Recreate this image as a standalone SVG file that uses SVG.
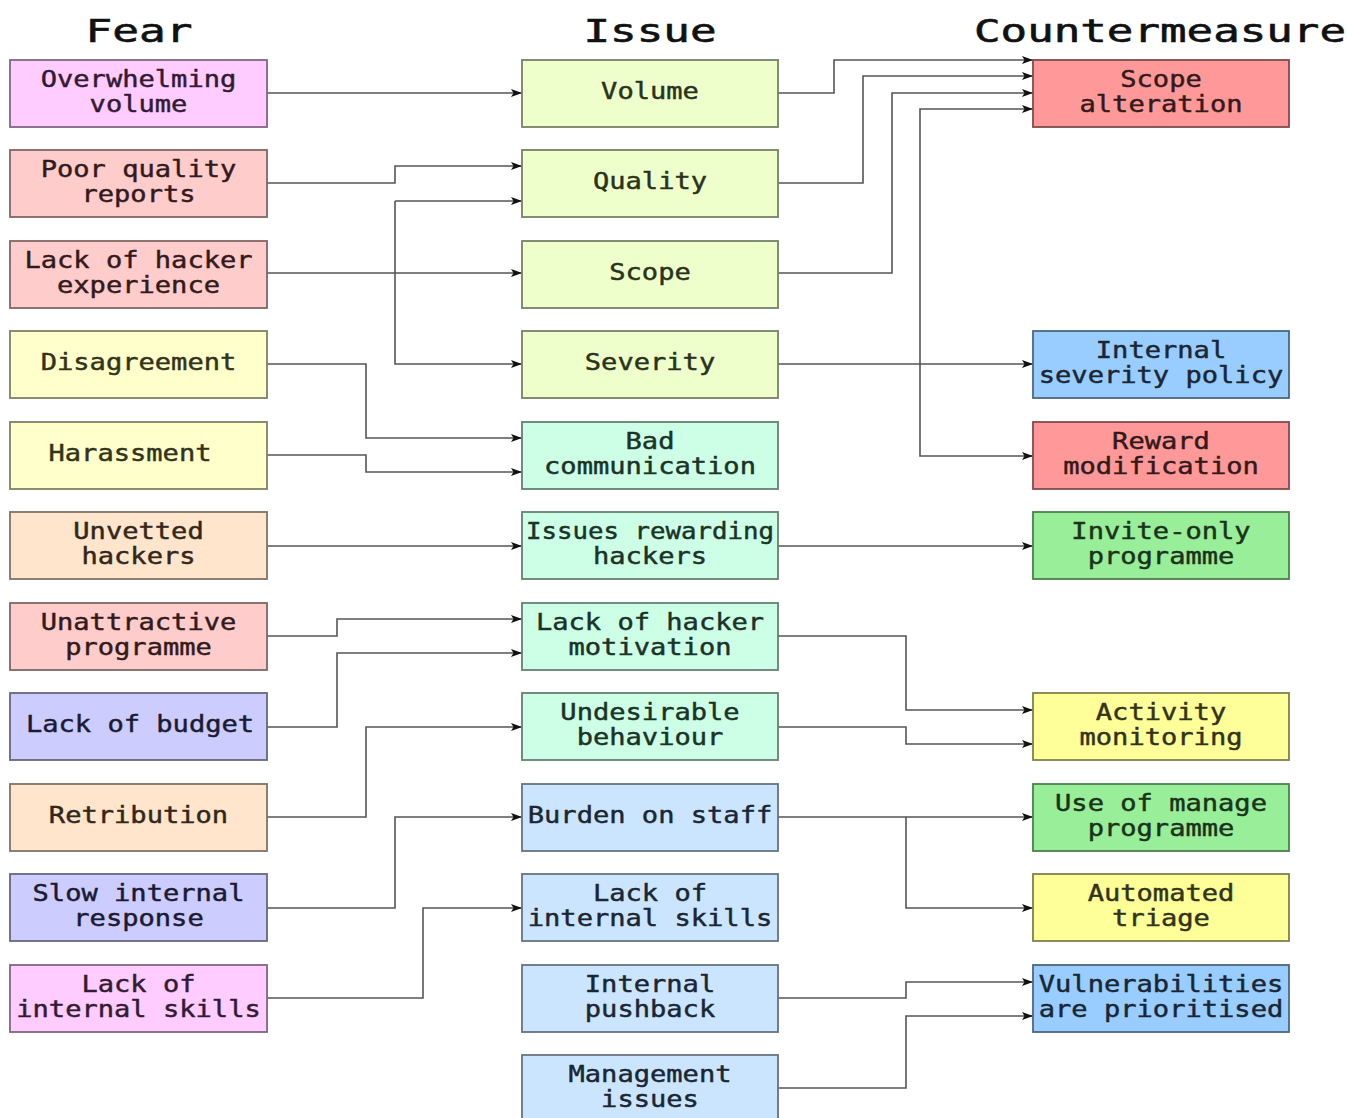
<svg xmlns="http://www.w3.org/2000/svg" width="1347" height="1118" viewBox="0 0 1347 1118">
  <style>
    text { font-family: "DejaVu Sans Mono", "Liberation Mono", monospace; text-anchor: middle; }
    .title { font-size: 32px; fill: #111; stroke: #111; stroke-width: 0.6; }
    .lbl { font-size: 23px; stroke-width: 0.45; }
    .box { stroke-width: 1.8; }
    .pink .box { fill: #ffccff; stroke: #806680; } .pink text { fill: #331a33; stroke: #331a33; }
    .rose .box { fill: #ffcccc; stroke: #806666; } .rose text { fill: #331a1a; stroke: #331a1a; }
    .cream .box { fill: #ffffcc; stroke: #808066; } .cream text { fill: #33331a; stroke: #33331a; }
    .peach .box { fill: #ffe5cc; stroke: #807366; } .peach text { fill: #33261a; stroke: #33261a; }
    .lav .box { fill: #ccccff; stroke: #666680; } .lav text { fill: #1a1a33; stroke: #1a1a33; }
    .lime .box { fill: #eeffcc; stroke: #778066; } .lime text { fill: #2a331a; stroke: #2a331a; }
    .mint .box { fill: #ccffe6; stroke: #668073; } .mint text { fill: #1a3326; stroke: #1a3326; }
    .sky .box { fill: #cce5ff; stroke: #667380; } .sky text { fill: #1a2633; stroke: #1a2633; }
    .red .box { fill: #ff9999; stroke: #804c4c; } .red text { fill: #331a1a; stroke: #331a1a; }
    .blue .box { fill: #99ccff; stroke: #4c6680; } .blue text { fill: #1a2633; stroke: #1a2633; }
    .green .box { fill: #99ee99; stroke: #4c804c; } .green text { fill: #1a331a; stroke: #1a331a; }
    .yellow .box { fill: #ffff99; stroke: #80804c; } .yellow text { fill: #33331a; stroke: #33331a; }
    .edges path { fill: none; stroke: #555; stroke-width: 1.6; }
    .edges path.arr { marker-end: url(#arrow); }
  </style>
  <defs>
    <marker id="arrow" markerUnits="userSpaceOnUse" markerWidth="12" markerHeight="9" refX="11" refY="4.5" orient="auto">
      <path d="M0,0.5 L11,4.5 L0,8.5 L2.5,4.5 z" fill="#111"/>
    </marker>
  </defs>

  <rect width="1347" height="1118" fill="#fff"/>

  <!-- column headings -->
  <g id="headings">
    <text class="title" x="139" y="42" textLength="107" lengthAdjust="spacingAndGlyphs">Fear</text>
    <text class="title" x="650" y="42" textLength="133" lengthAdjust="spacingAndGlyphs">Issue</text>
    <text class="title" x="1160" y="42" textLength="372" lengthAdjust="spacingAndGlyphs">Countermeasure</text>
  </g>

  <!-- connectors: shared trunks drawn once, branches carry the arrowheads -->
  <g id="connectors" class="edges">
    <!-- fear to issue -->
    <path class="arr" d="M267,93 H522"/>
    <path class="arr" d="M267,183 H395 V166 H522"/>
    <path class="arr" d="M267,273 H522"/>
    <path d="M395,273 V201"/>
    <path class="arr" d="M395,201 H522"/>
    <path class="arr" d="M395,273 V364 H522"/>
    <path class="arr" d="M267,364 H366 V438 H522"/>
    <path class="arr" d="M267,455 H366 V472 H522"/>
    <path class="arr" d="M267,546 H522"/>
    <path class="arr" d="M267,636 H337 V619 H522"/>
    <path class="arr" d="M267,727 H337 V653 H522"/>
    <path class="arr" d="M267,817 H366 V727 H522"/>
    <path class="arr" d="M267,908 H395 V817 H522"/>
    <path class="arr" d="M267,998 H423 V908 H522"/>
    <!-- issue to countermeasure -->
    <path class="arr" d="M778,93 H834 V60 H1033"/>
    <path class="arr" d="M778,183 H863 V76 H1033"/>
    <path class="arr" d="M778,273 H892 V93 H1033"/>
    <path class="arr" d="M778,364 H1033"/>
    <path class="arr" d="M920,364 V109 H1033"/>
    <path class="arr" d="M920,364 V456 H1033"/>
    <path class="arr" d="M778,546 H1033"/>
    <path class="arr" d="M778,636 H906 V710 H1033"/>
    <path class="arr" d="M778,727 H906 V744 H1033"/>
    <path class="arr" d="M778,817 H1033"/>
    <path class="arr" d="M906,817 V908 H1033"/>
    <path class="arr" d="M778,998 H906 V982 H1033"/>
    <path class="arr" d="M778,1088 H906 V1016 H1033"/>
  </g>

  <!-- Fear column -->
  <g id="fear-overwhelming-volume" class="pink">
    <rect class="box" x="10" y="60" width="257" height="67"/>
    <text class="lbl" x="138.5" y="87" textLength="195.6" lengthAdjust="spacingAndGlyphs">Overwhelming</text>
    <text class="lbl" x="138.5" y="112" textLength="97.8" lengthAdjust="spacingAndGlyphs">volume</text>
  </g>
  <g id="fear-poor-quality-reports" class="rose">
    <rect class="box" x="10" y="150" width="257" height="67"/>
    <text class="lbl" x="138.5" y="177" textLength="195.6" lengthAdjust="spacingAndGlyphs">Poor quality</text>
    <text class="lbl" x="138.5" y="202" textLength="114.1" lengthAdjust="spacingAndGlyphs">reports</text>
  </g>
  <g id="fear-lack-of-hacker-experience" class="rose">
    <rect class="box" x="10" y="241" width="257" height="67"/>
    <text class="lbl" x="138.5" y="268" textLength="228.2" lengthAdjust="spacingAndGlyphs">Lack of hacker</text>
    <text class="lbl" x="138.5" y="293" textLength="163" lengthAdjust="spacingAndGlyphs">experience</text>
  </g>
  <g id="fear-disagreement" class="cream">
    <rect class="box" x="10" y="331" width="257" height="67"/>
    <text class="lbl" x="138.5" y="370" textLength="195.6" lengthAdjust="spacingAndGlyphs">Disagreement</text>
  </g>
  <g id="fear-harassment" class="cream">
    <rect class="box" x="10" y="422" width="257" height="67"/>
    <text class="lbl" x="130" y="461" textLength="163" lengthAdjust="spacingAndGlyphs">Harassment</text>
  </g>
  <g id="fear-unvetted-hackers" class="peach">
    <rect class="box" x="10" y="512" width="257" height="67"/>
    <text class="lbl" x="138.5" y="539" textLength="130.4" lengthAdjust="spacingAndGlyphs">Unvetted</text>
    <text class="lbl" x="138.5" y="564" textLength="114.1" lengthAdjust="spacingAndGlyphs">hackers</text>
  </g>
  <g id="fear-unattractive-programme" class="rose">
    <rect class="box" x="10" y="603" width="257" height="67"/>
    <text class="lbl" x="138.5" y="630" textLength="195.6" lengthAdjust="spacingAndGlyphs">Unattractive</text>
    <text class="lbl" x="138.5" y="655" textLength="146.7" lengthAdjust="spacingAndGlyphs">programme</text>
  </g>
  <g id="fear-lack-of-budget" class="lav">
    <rect class="box" x="10" y="693" width="257" height="67"/>
    <text class="lbl" x="140" y="732" textLength="228.2" lengthAdjust="spacingAndGlyphs">Lack of budget</text>
  </g>
  <g id="fear-retribution" class="peach">
    <rect class="box" x="10" y="784" width="257" height="67"/>
    <text class="lbl" x="138.5" y="823" textLength="179.3" lengthAdjust="spacingAndGlyphs">Retribution</text>
  </g>
  <g id="fear-slow-internal-response" class="lav">
    <rect class="box" x="10" y="874" width="257" height="67"/>
    <text class="lbl" x="138.5" y="901" textLength="211.9" lengthAdjust="spacingAndGlyphs">Slow internal</text>
    <text class="lbl" x="138.5" y="926" textLength="130.4" lengthAdjust="spacingAndGlyphs">response</text>
  </g>
  <g id="fear-lack-of-internal-skills" class="pink">
    <rect class="box" x="10" y="965" width="257" height="67"/>
    <text class="lbl" x="138.5" y="992" textLength="114.1" lengthAdjust="spacingAndGlyphs">Lack of</text>
    <text class="lbl" x="138.5" y="1017" textLength="244.5" lengthAdjust="spacingAndGlyphs">internal skills</text>
  </g>

  <!-- Issue column -->
  <g id="issue-volume" class="lime">
    <rect class="box" x="522" y="60" width="256" height="67"/>
    <text class="lbl" x="650" y="99" textLength="97.8" lengthAdjust="spacingAndGlyphs">Volume</text>
  </g>
  <g id="issue-quality" class="lime">
    <rect class="box" x="522" y="150" width="256" height="67"/>
    <text class="lbl" x="650" y="189" textLength="114.1" lengthAdjust="spacingAndGlyphs">Quality</text>
  </g>
  <g id="issue-scope" class="lime">
    <rect class="box" x="522" y="241" width="256" height="67"/>
    <text class="lbl" x="650" y="280" textLength="81.5" lengthAdjust="spacingAndGlyphs">Scope</text>
  </g>
  <g id="issue-severity" class="lime">
    <rect class="box" x="522" y="331" width="256" height="67"/>
    <text class="lbl" x="650" y="370" textLength="130.4" lengthAdjust="spacingAndGlyphs">Severity</text>
  </g>
  <g id="issue-bad-communication" class="mint">
    <rect class="box" x="522" y="422" width="256" height="67"/>
    <text class="lbl" x="650" y="449" textLength="48.9" lengthAdjust="spacingAndGlyphs">Bad</text>
    <text class="lbl" x="650" y="474" textLength="211.9" lengthAdjust="spacingAndGlyphs">communication</text>
  </g>
  <g id="issue-issues-rewarding-hackers" class="mint">
    <rect class="box" x="522" y="512" width="256" height="67"/>
    <text class="lbl" x="650" y="539" textLength="248" lengthAdjust="spacingAndGlyphs">Issues rewarding</text>
    <text class="lbl" x="650" y="564" textLength="114.1" lengthAdjust="spacingAndGlyphs">hackers</text>
  </g>
  <g id="issue-lack-of-hacker-motivation" class="mint">
    <rect class="box" x="522" y="603" width="256" height="67"/>
    <text class="lbl" x="650" y="630" textLength="228.2" lengthAdjust="spacingAndGlyphs">Lack of hacker</text>
    <text class="lbl" x="650" y="655" textLength="163" lengthAdjust="spacingAndGlyphs">motivation</text>
  </g>
  <g id="issue-undesirable-behaviour" class="mint">
    <rect class="box" x="522" y="693" width="256" height="67"/>
    <text class="lbl" x="650" y="720" textLength="179.3" lengthAdjust="spacingAndGlyphs">Undesirable</text>
    <text class="lbl" x="650" y="745" textLength="146.7" lengthAdjust="spacingAndGlyphs">behaviour</text>
  </g>
  <g id="issue-burden-on-staff" class="sky">
    <rect class="box" x="522" y="784" width="256" height="67"/>
    <text class="lbl" x="650" y="823" textLength="244.5" lengthAdjust="spacingAndGlyphs">Burden on staff</text>
  </g>
  <g id="issue-lack-of-internal-skills" class="sky">
    <rect class="box" x="522" y="874" width="256" height="67"/>
    <text class="lbl" x="650" y="901" textLength="114.1" lengthAdjust="spacingAndGlyphs">Lack of</text>
    <text class="lbl" x="650" y="926" textLength="244.5" lengthAdjust="spacingAndGlyphs">internal skills</text>
  </g>
  <g id="issue-internal-pushback" class="sky">
    <rect class="box" x="522" y="965" width="256" height="67"/>
    <text class="lbl" x="650" y="992" textLength="130.4" lengthAdjust="spacingAndGlyphs">Internal</text>
    <text class="lbl" x="650" y="1017" textLength="130.4" lengthAdjust="spacingAndGlyphs">pushback</text>
  </g>
  <g id="issue-management-issues" class="sky">
    <rect class="box" x="522" y="1055" width="256" height="67"/>
    <text class="lbl" x="650" y="1082" textLength="163" lengthAdjust="spacingAndGlyphs">Management</text>
    <text class="lbl" x="650" y="1107" textLength="97.8" lengthAdjust="spacingAndGlyphs">issues</text>
  </g>

  <!-- Countermeasure column -->
  <g id="cm-scope-alteration" class="red">
    <rect class="box" x="1033" y="60" width="256" height="67"/>
    <text class="lbl" x="1161" y="87" textLength="81.5" lengthAdjust="spacingAndGlyphs">Scope</text>
    <text class="lbl" x="1161" y="112" textLength="163" lengthAdjust="spacingAndGlyphs">alteration</text>
  </g>
  <g id="cm-internal-severity-policy" class="blue">
    <rect class="box" x="1033" y="331" width="256" height="67"/>
    <text class="lbl" x="1161" y="358" textLength="130.4" lengthAdjust="spacingAndGlyphs">Internal</text>
    <text class="lbl" x="1161" y="383" textLength="244.5" lengthAdjust="spacingAndGlyphs">severity policy</text>
  </g>
  <g id="cm-reward-modification" class="red">
    <rect class="box" x="1033" y="422" width="256" height="67"/>
    <text class="lbl" x="1161" y="449" textLength="97.8" lengthAdjust="spacingAndGlyphs">Reward</text>
    <text class="lbl" x="1161" y="474" textLength="195.6" lengthAdjust="spacingAndGlyphs">modification</text>
  </g>
  <g id="cm-invite-only-programme" class="green">
    <rect class="box" x="1033" y="512" width="256" height="67"/>
    <text class="lbl" x="1161" y="539" textLength="179.3" lengthAdjust="spacingAndGlyphs">Invite-only</text>
    <text class="lbl" x="1161" y="564" textLength="146.7" lengthAdjust="spacingAndGlyphs">programme</text>
  </g>
  <g id="cm-activity-monitoring" class="yellow">
    <rect class="box" x="1033" y="693" width="256" height="67"/>
    <text class="lbl" x="1161" y="720" textLength="130.4" lengthAdjust="spacingAndGlyphs">Activity</text>
    <text class="lbl" x="1161" y="745" textLength="163" lengthAdjust="spacingAndGlyphs">monitoring</text>
  </g>
  <g id="cm-use-of-manage-programme" class="green">
    <rect class="box" x="1033" y="784" width="256" height="67"/>
    <text class="lbl" x="1161" y="811" textLength="211.9" lengthAdjust="spacingAndGlyphs">Use of manage</text>
    <text class="lbl" x="1161" y="836" textLength="146.7" lengthAdjust="spacingAndGlyphs">programme</text>
  </g>
  <g id="cm-automated-triage" class="yellow">
    <rect class="box" x="1033" y="874" width="256" height="67"/>
    <text class="lbl" x="1161" y="901" textLength="146.7" lengthAdjust="spacingAndGlyphs">Automated</text>
    <text class="lbl" x="1161" y="926" textLength="97.8" lengthAdjust="spacingAndGlyphs">triage</text>
  </g>
  <g id="cm-vulnerabilities-prioritised" class="blue">
    <rect class="box" x="1033" y="965" width="256" height="67"/>
    <text class="lbl" x="1161" y="992" textLength="244.5" lengthAdjust="spacingAndGlyphs">Vulnerabilities</text>
    <text class="lbl" x="1161" y="1017" textLength="244.5" lengthAdjust="spacingAndGlyphs">are prioritised</text>
  </g>
</svg>
